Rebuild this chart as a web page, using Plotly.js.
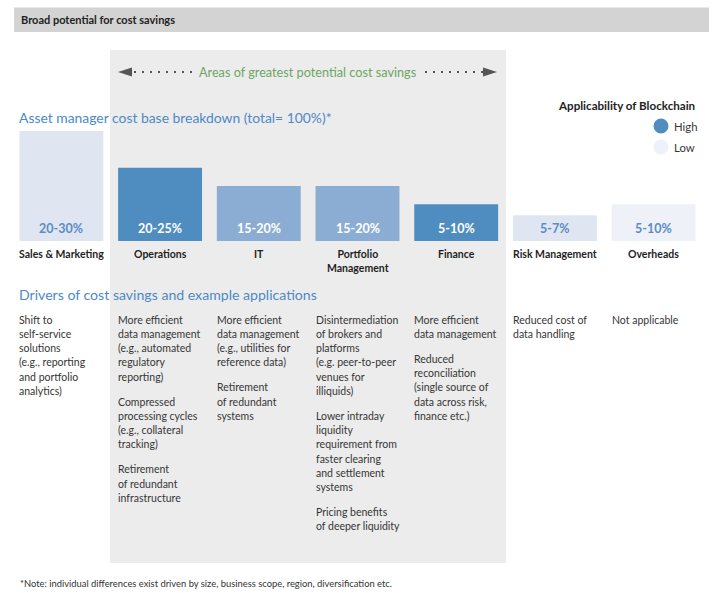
<!DOCTYPE html>
<html>
<head>
<meta charset="utf-8">
<script src="https://cdn.plot.ly/plotly-3.0.1.min.js"></script>
<style>
  html, body { margin: 0; padding: 0; background: #ffffff; }
  #chart { width: 720px; height: 593px; }
</style>
</head>
<body>
<div id="chart"></div>
<script>
// ---------------- DATA ----------------
const chartTitle = 'Broad potential for cost savings';
const breakdownTitle = 'Asset manager cost base breakdown (total= 100%)*';
const driversTitle = 'Drivers of cost savings and example applications';
const areasLabel = 'Areas of greatest potential cost savings';
const legendTitle = 'Applicability of Blockchain';
const legendLevels = ['High', 'Low'];
const footnote = '*Note: individual differences exist driven by size, business scope, region, diversification etc.';

const categories = ['Sales & Marketing', 'Operations', 'IT', 'Portfolio<br>Management', 'Finance', 'Risk Management', 'Overheads'];
const barHeights = [30, 20, 15, 15, 10, 7, 10];
const rangeLabels = ['20-30%', '20-25%', '15-20%', '15-20%', '5-10%', '5-7%', '5-10%'];
// applicability of blockchain: 4 = highest ... 1 = lowest
const applicability = [2, 4, 3, 3, 4, 2, 1];

const drivers = [
  ['Shift to<br>self-service<br>solutions<br>(e.g., reporting<br>and portfolio<br>analytics)'],
  ['More efficient<br>data management<br>(e.g., automated<br>regulatory<br>reporting)',
   'Compressed<br>processing cycles<br>(e.g., collateral<br>tracking)',
   'Retirement<br>of redundant<br>infrastructure'],
  ['More efficient<br>data management<br>(e.g., utilities for<br>reference data)',
   'Retirement<br>of redundant<br>systems'],
  ['Disintermediation<br>of brokers and<br>platforms<br>(e.g. peer-to-peer<br>venues for<br>illiquids)',
   'Lower intraday<br>liquidity<br>requirement from<br>faster clearing<br>and settlement<br>systems',
   'Pricing benefits<br>of deeper liquidity'],
  ['More efficient<br>data management',
   'Reduced<br>reconciliation<br>(single source of<br>data across risk,<br>finance etc.)'],
  ['Reduced cost of<br>data handling'],
  ['Not applicable']
];

// ---------------- STYLE ----------------
const FONT = 'Lato, "Noto Sans", sans-serif';
const palette = {1: '#eef1f8', 2: '#dfe6f2', 3: '#8badd4', 4: '#4f8cc0'};
const blue = '#4d89c6';
const green = '#6ca564';
const textCol = '#363636';

// pixel -> paper helpers (plot area: x 12..703, y 131..241)
const ML = 12, MR = 17, MT = 131, MB = 352;
const PW = 720 - ML - MR, PH = 593 - MT - MB;
const fx = p => (p - ML) / PW;
const fy = p => (593 - MB - p) / PH;

const n = categories.length;
const barColors = applicability.map(a => palette[a]);
const labelColors = applicability.map(a => a >= 3 ? '#ffffff' : '#5b8cc6');
const BW = 0.85;

const annotations = [];
const shapes = [];

// header bar & highlight panel
shapes.push({type: 'rect', xref: 'paper', yref: 'paper', layer: 'below',
  x0: fx(14), x1: fx(709), y0: fy(7.5), y1: fy(32), fillcolor: '#d3d3d3', line: {width: 0}});
shapes.push({type: 'rect', xref: 'paper', yref: 'paper', layer: 'below',
  x0: fx(110), x1: fx(506), y0: fy(50), y1: fy(563), fillcolor: '#ececec', line: {width: 0}});

annotations.push({xref: 'paper', yref: 'paper', x: fx(19), y: fy(20), xanchor: 'left', yanchor: 'middle',
  text: '<b>' + chartTitle + '</b>', showarrow: false, font: {family: FONT, size: 11, color: '#222'}});

// arrow with dotted lines
const arrowY = 72;
shapes.push({type: 'path', xref: 'paper', yref: 'paper',
  path: `M${fx(118)},${fy(arrowY)} L${fx(132)},${fy(arrowY - 4.5)} L${fx(132)},${fy(arrowY + 4.5)} Z`,
  fillcolor: '#555', line: {width: 0}});
shapes.push({type: 'path', xref: 'paper', yref: 'paper',
  path: `M${fx(497)},${fy(arrowY)} L${fx(483)},${fy(arrowY - 4.5)} L${fx(483)},${fy(arrowY + 4.5)} Z`,
  fillcolor: '#555', line: {width: 0}});
shapes.push({type: 'line', xref: 'paper', yref: 'paper', x0: fx(134), x1: fx(192), y0: fy(arrowY), y1: fy(arrowY),
  line: {color: '#555', width: 2.2, dash: '2px,6px'}});
shapes.push({type: 'line', xref: 'paper', yref: 'paper', x0: fx(425), x1: fx(483), y0: fy(arrowY), y1: fy(arrowY),
  line: {color: '#555', width: 2.2, dash: '2px,6px'}});
annotations.push({xref: 'paper', yref: 'paper', x: fx(307.5), y: fy(arrowY), xanchor: 'center', yanchor: 'middle',
  text: areasLabel, showarrow: false, font: {family: FONT, size: 12.7, color: green}});

// section titles
annotations.push({xref: 'paper', yref: 'paper', x: fx(19), y: fy(117), xanchor: 'left', yanchor: 'middle', xshift: -2,
  text: breakdownTitle, showarrow: false, font: {family: FONT, size: 13.9, color: blue}});
annotations.push({xref: 'paper', yref: 'paper', x: fx(19), y: fy(294), xanchor: 'left', yanchor: 'middle', xshift: -2,
  text: driversTitle, showarrow: false, font: {family: FONT, size: 14.1, color: blue}});

// legend
annotations.push({xref: 'paper', yref: 'paper', x: fx(697), y: fy(105), xanchor: 'right', yanchor: 'middle',
  text: '<b>' + legendTitle + '</b>', showarrow: false, font: {family: FONT, size: 11.6, color: '#222'}});
const legendColors = [palette[4], palette[1]];
legendLevels.forEach((lv, k) => {
  const cy = 126 + k * 21;
  shapes.push({type: 'circle', xref: 'paper', yref: 'paper',
    x0: fx(653.5), x1: fx(668.5), y0: fy(cy - 7.5), y1: fy(cy + 7.5), fillcolor: legendColors[k], line: {width: 0}});
  annotations.push({xref: 'paper', yref: 'paper', x: fx(671.5), y: fy(cy), xanchor: 'left', yanchor: 'middle',
    text: lv, showarrow: false, font: {family: FONT, size: 11.3, color: textCol}});
});

// bar value labels and category labels
categories.forEach((c, i) => {
  annotations.push({xref: 'x', yref: 'y', x: i, y: 0, yanchor: 'bottom', yshift: 3,
    text: '<b>' + rangeLabels[i] + '</b>', showarrow: false, font: {family: FONT, size: 12.5, color: labelColors[i]}});
  annotations.push({xref: 'x', yref: 'y', x: i, y: 0, yanchor: 'top', yshift: -5,
    text: '<b>' + c + '</b>', showarrow: false, font: {family: FONT, size: 10.5, color: '#1e1e1e'}});
});

// driver paragraphs, one annotation per line for exact spacing
const LH = 14.25, GAP = 10.8;
drivers.forEach((paras, i) => {
  let y = 319.5;
  paras.forEach(p => {
    p.split('<br>').forEach(line => {
      annotations.push({xref: 'x', yref: 'paper', x: i - BW / 2, y: fy(y), xanchor: 'left', yanchor: 'middle',
        xshift: -2, align: 'left', text: line, showarrow: false, font: {family: FONT, size: 10.5, color: textCol}});
      y += LH;
    });
    y += GAP;
  });
});

// footnote
annotations.push({xref: 'paper', yref: 'paper', x: fx(19), y: fy(583), xanchor: 'left', yanchor: 'middle', xshift: -1,
  text: footnote, showarrow: false, font: {family: FONT, size: 9.4, color: '#333'}});

const trace = {
  type: 'bar',
  x: categories.map((c, i) => i),
  y: barHeights,
  width: BW,
  marker: {color: barColors, line: {width: 0}},
  hoverinfo: 'skip'
};

const layout = {
  width: 720, height: 593,
  margin: {l: ML, r: MR, t: MT, b: MB, pad: 0},
  paper_bgcolor: '#ffffff',
  plot_bgcolor: 'rgba(0,0,0,0)',
  showlegend: false,
  font: {family: FONT},
  xaxis: {range: [-0.5, n - 0.5], showticklabels: false, showgrid: false, zeroline: false, showline: false, fixedrange: true},
  yaxis: {range: [0, 30], visible: false, showgrid: false, zeroline: false, fixedrange: true},
  shapes: shapes,
  annotations: annotations
};

Plotly.newPlot('chart', [trace], layout, {displayModeBar: false, staticPlot: true});
</script>
</body>
</html>
